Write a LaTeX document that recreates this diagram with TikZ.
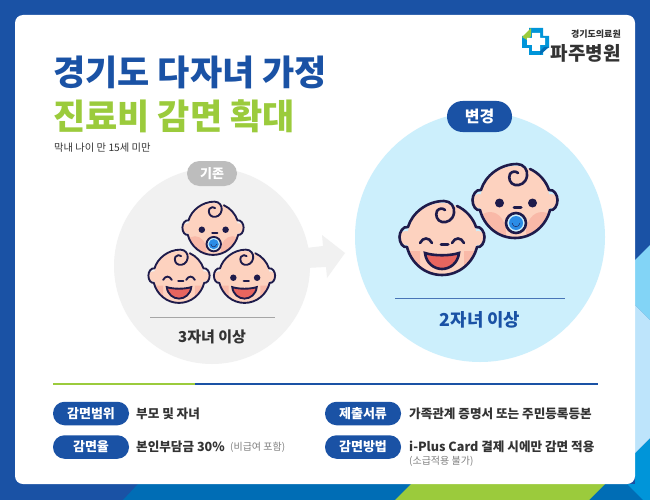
\documentclass[tikz,border=0pt]{standalone}
\usepackage{fontspec}
\setmainfont{Noto Sans CJK KR}
\newfontfamily\heavykr{Noto Sans CJK KR Black}
\definecolor{navy}{HTML}{1A52A5}
\definecolor{leaf}{HTML}{9BCB3C}
\definecolor{midblue}{HTML}{006DB5}
\definecolor{brightblue}{HTML}{0095D9}
\definecolor{skyblue}{HTML}{82D4F6}
\definecolor{paleblue}{HTML}{BDE4FB}
\definecolor{bigdisc}{HTML}{CCEFFC}
\definecolor{greydisc}{HTML}{F1F1F1}
\definecolor{ink}{HTML}{1E1B4B}
\definecolor{skin}{HTML}{FDD2BF}
\definecolor{blush}{HTML}{F9B9A8}
\definecolor{tongue}{HTML}{E8655F}
\definecolor{paci}{HTML}{2B8CE6}
\definecolor{bodytext}{HTML}{333333}
\tikzstyle{bluepill}=[rounded corners=11.5pt,fill=navy,text=white,font=\bfseries\fontsize{13}{13}\selectfont,
                      inner sep=0pt,minimum width=76pt,minimum height=23.5pt]
\tikzstyle{infotext}=[anchor=west,inner sep=0pt,text=bodytext,font=\bfseries\fontsize{12.6}{13}\selectfont]
\tikzstyle{smalltext}=[anchor=west,inner sep=0pt,text=gray,font=\fontsize{10}{10}\selectfont]
\tikzstyle{bigtitle}=[anchor=west,inner sep=0pt,font=\heavykr\fontsize{35}{35}\selectfont]
\newcommand{\dotseyes}{
    \fill[ink] (-15.5,1) circle (4.5) (17.5,1) circle (4.5);
}
\newcommand{\shuteyes}{
    \draw[line cap=round] (-22,4) .. controls (-19,-2) and (-13,-2) .. (-10,4);
    \draw[line cap=round] (10,4) .. controls (13,-2) and (19,-2) .. (22,4);
}
\newcommand{\laughmouth}{
    \begin{scope}
      \clip (0,0) ellipse (35 and 36);
      \fill[blush] (-38,12) rectangle (-22,38) (22,12) rectangle (38,38);
    \end{scope}
    \filldraw[fill=tongue] (-17,14) .. controls (-8,17) and (8,17) .. (17,14)
      .. controls (16,24) and (8,30) .. (0,30) .. controls (-8,30) and (-16,24) .. (-17,14) -- cycle;
}
\newcommand{\pacifier}{
    \begin{scope}
      \clip (0,0) ellipse (35 and 36);
      \fill[blush] (-25,30) ellipse (16 and 20) (27,30) ellipse (16 and 20);
    \end{scope}
    \filldraw[fill=bigdisc] (1,21) circle (10);
    \fill[paci] (1,21) circle (7);
    \draw[thin,ink] (-3,21) .. controls (-2,26) and (4,26) .. (5,21);
}
\newcommand{\babyhead}[4]{
  \begin{scope}[shift={(#1,#2)},scale=#3,draw=ink,line width=#3*2.6pt]
    \fill[skin] (0,0) ellipse (35 and 36) (-36,-1) circle (7) (36,-1) circle (7);
    #4
    \draw[line width=#3*3pt,line cap=round] (-1,5.5) -- (6,5.5);
    % outline, from the gap at the top round to the curl
    \draw[line cap=round,line join=round] (15,-33) .. controls (24,-29) and (31,-21) .. (34,-12)
      .. controls (39,-13) and (42.5,-7) .. (42.5,-2) .. controls (42.5,4) and (39,9) .. (35,8)
      .. controls (31,24) and (17,36) .. (0,36) .. controls (-17,36) and (-31,24) .. (-35,8)
      .. controls (-39,9) and (-42.5,4) .. (-42.5,-2) .. controls (-42.5,-7) and (-39,-13) .. (-34,-12)
      .. controls (-30,-26) and (-15,-38) .. (2,-38)
      .. controls (9,-38) and (13,-32) .. (12,-26) .. controls (11,-19) and (5,-16) .. (0,-17)
      .. controls (-5,-18) and (-7,-24) .. (-5,-28) .. controls (-3,-31) and (1,-31) .. (3,-29);
  \end{scope}
}
\begin{document}
\begin{tikzpicture}[x=1pt,y=-1pt]
    \useasboundingbox (0,0) rectangle (650,500);
    % background strips
    \fill[navy] (0,0) rectangle (650,500);
    \fill[midblue] (138,484) -- (123,500) -- (650,500) -- (650,484) -- cycle;
    \fill[leaf] (411,484) -- (395,500) -- (589,500) -- (605,484) -- cycle;
    \fill[brightblue] (627,484) -- (643,500) -- (650,500) -- (650,438) -- (635,453) -- (635,484) -- cycle;
    \fill[paleblue] (635,305) -- (650,320) -- (650,438) -- (635,453) -- cycle;
    \fill[skyblue] (635,260) -- (650,245) -- (650,320) -- (635,305) -- cycle;
    \fill[white,rounded corners=8pt] (15,15) rectangle (635,484);

    % titles
    \node (title1) at (53,72) [bigtitle,text=navy]{경기도 다자녀 가정};
    \node (title2) at (53,116) [bigtitle,text=leaf]{진료비 감면 확대};
    \node (note) at (54,148) [anchor=west,inner sep=0pt,text=bodytext,font=\fontsize{10.3}{10}\selectfont]{막내 나이 만 15세 미만};

    % logo
    \fill[brightblue] (522,36) -- (529,36) -- (529,28) -- (543,28) -- (543,36) -- (549,36) -- (549,48) -- (543,48) -- (543,55) -- (529,55) -- (529,48) -- (522,48) -- cycle;
    \fill[leaf] (522,37) -- (531,28) -- (531,36) -- (527,40) -- cycle;
    \fill[midblue] (549,47) -- (540,55) -- (540,51) -- (544,47) -- cycle;
    \fill[white] (527,38) -- (532,38) -- (532,33) -- (540,33) -- (540,38) -- (545,38) -- (545,45) -- (540,45) -- (540,51) -- (532,51) -- (532,45) -- (527,45) -- cycle;
    \node (logo1) at (621,34) [anchor=east,inner sep=0pt,text=bodytext,font=\bfseries\fontsize{9}{9}\selectfont]{경기도의료원};
    \node (logo2) at (621,53) [anchor=east,inner sep=0pt,text=bodytext,font=\bfseries\fontsize{19}{19}\selectfont]{파주병원};

    % discs and arrow
    \node (olddisc) at (212,266) [circle,fill=greydisc,inner sep=0pt,minimum size=196pt]{};
    \node (newdisc) at (480,237) [circle,fill=bigdisc,inner sep=0pt,minimum size=250pt]{};
    \fill[greydisc] (306,248) -- (323,246) -- (322,235) -- (345,253) -- (327,278) -- (326,267) -- (306,268) -- cycle;
    \node (oldpill) at (212,173.5) [rounded corners=12.5pt,fill=black!26,text=white,font=\bfseries\fontsize{13}{13}\selectfont,
                      inner sep=0pt,minimum width=50pt,minimum height=25pt]{기존};
    \node (newpill) at (479.5,116.5) [rounded corners=15.5pt,fill=navy,text=white,font=\bfseries\fontsize{16}{16}\selectfont,
                      inner sep=0pt,minimum width=65pt,minimum height=31pt]{변경};

    % babies
    \babyhead{213}{229}{0.72}{\pacifier\dotseyes}
    \babyhead{179}{277}{0.72}{\laughmouth\shuteyes}
    \babyhead{244.5}{277}{0.72}{\laughmouth\dotseyes}
    \babyhead{515}{202}{1}{\pacifier\dotseyes}
    \babyhead{442}{239}{1}{\laughmouth\shuteyes}

    \coordinate (oldl) at (150,317);
    \coordinate (oldr) at (275,317);
    \coordinate (newl) at (395,298);
    \coordinate (newr) at (565,298);
    \draw[black!35,line width=0.8pt] (oldl) -- (oldr);
    \draw[navy!80,line width=0.6pt] (newl) -- (newr);
    \node (oldlabel) at (212,337) [inner sep=0pt,text=bodytext,font=\bfseries\fontsize{15}{15}\selectfont]{3자녀 이상};
    \node (newlabel) at (480,320) [inner sep=0pt,text=navy,font=\bfseries\fontsize{17.8}{18}\selectfont]{2자녀 이상};

    % divider
    \coordinate (divl) at (53,383.5);
    \coordinate (divm) at (195,383.5);
    \coordinate (divr) at (598,383.5);
    \draw[leaf,line width=2pt] (divl) -- (divm);
    \draw[navy,line width=2pt] (divm) -- (divr);

    % info rows
    \node (scope) at (91,413.5) [bluepill]{감면범위};
    \node (rate) at (91,447) [bluepill]{감면율};
    \node (docs) at (363,413.5) [bluepill]{제출서류};
    \node (how) at (363,447) [bluepill]{감면방법};
    \node (scopetxt) at (136,413.5) [infotext]{부모 및 자녀};
    \node (ratetxt) at (136,447) [infotext]{본인부담금 30\%};
    \node (ratenote) at (230,447.5) [smalltext]{(비급여 포함)};
    \node (docstxt) at (409,413.5) [infotext]{가족관계 증명서 또는 주민등록등본};
    \node (howtxt) at (409,447) [infotext]{i-Plus Card 결제 시에만 감면 적용};
    \node (hownote) at (409,461.5) [smalltext]{(소급적용 불가)};
  \end{tikzpicture}
\end{document}
